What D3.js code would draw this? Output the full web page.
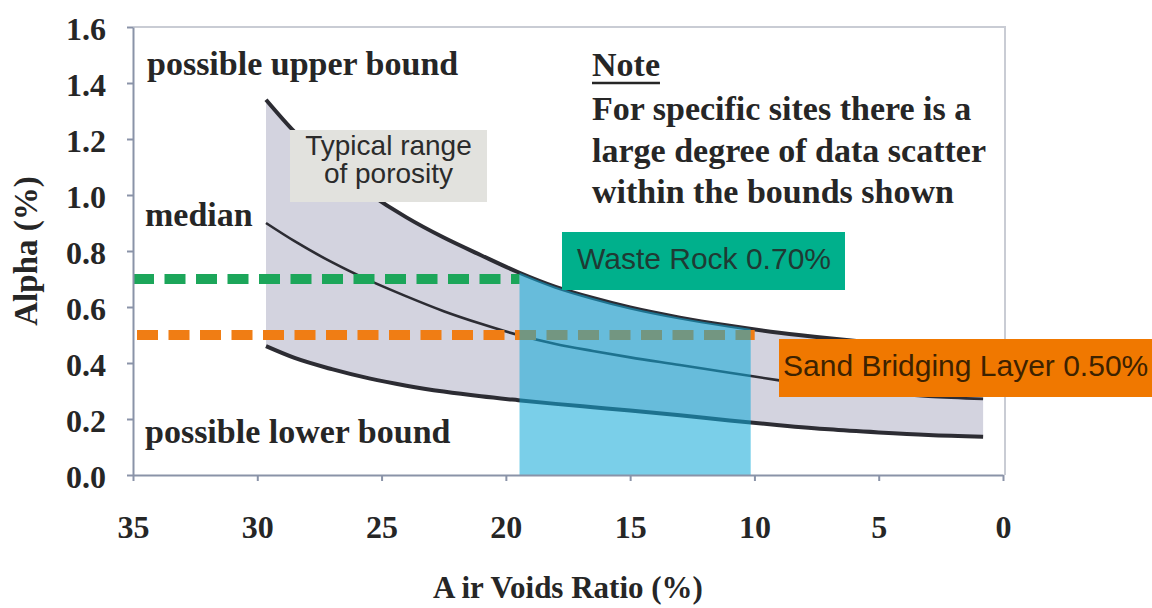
<!DOCTYPE html>
<html>
<head>
<meta charset="utf-8">
<script src="https://cdn.jsdelivr.net/npm/d3@7"></script>
<style>
  html, body { margin: 0; padding: 0; background: #fff; }
  svg { display: block; }
  .serif { font-family: "Liberation Serif", "Times New Roman", serif; font-weight: bold; fill: #262626; }
  .sans { font-family: "Liberation Sans", Arial, sans-serif; }
  .axis path, .axis line { stroke: #8a93a8; stroke-width: 2; }
</style>
</head>
<body>
<svg id="chart" width="1152" height="608"></svg>
<script>
const voids = [29.65, 28.5, 27, 25.5, 24, 22.5, 21, 19.5, 18, 16.5, 15, 13, 11, 9, 7, 5, 3, 0.8];
// alpha (%) along each curve
const upperAlpha  = [1.34, 1.225, 1.105, 1.005, 0.92, 0.848, 0.785, 0.724, 0.672, 0.632, 0.598, 0.562, 0.533, 0.508, 0.488, 0.471, 0.456, 0.442];
const medianAlpha = [0.90, 0.835, 0.76, 0.695, 0.638, 0.585, 0.54, 0.50, 0.468, 0.443, 0.42, 0.393, 0.365, 0.338, 0.31, 0.292, 0.28, 0.272];
const lowerAlpha  = [0.46, 0.418, 0.378, 0.345, 0.319, 0.298, 0.281, 0.267, 0.254, 0.242, 0.23, 0.213, 0.195, 0.178, 0.163, 0.152, 0.143, 0.137];

const xTicks = [35, 30, 25, 20, 15, 10, 5, 0];
const yTicks = [0, 0.2, 0.4, 0.6, 0.8, 1.0, 1.2, 1.4, 1.6];

// design values and the typical porosity band
const wasteRockAlpha = 0.70;
const sandLayerAlpha = 0.50;
const porosityRange = [19.45, 10.15];

const noteLines = [
  "For specific sites there is a",
  "large degree of data scatter",
  "within the bounds shown",
];

// ---------------------------
// Scales
// ---------------------------

const svg = d3.select("#chart");
const margin = { top: 27, right: 149, bottom: 133, left: 133 };
const W = 1152, H = 608;

const x = d3.scaleLinear().domain([35, 0]).range([margin.left, W - margin.right]);
const y = d3.scaleLinear().domain([0, 1.6]).range([H - margin.bottom, margin.top]);

svg.append("rect").attr("width", W).attr("height", H).attr("fill", "#fff");

// light frame on top and right
svg.append("path")
  .attr("d", `M${x(35)},${y(1.6)}H${x(0) + 2}V${y(0)}`)
  .attr("fill", "none")
  .attr("stroke", "#c9ccd4")
  .attr("stroke-width", 2);

const rows = voids.map((v, i) => ({
  v,
  up: upperAlpha[i],
  med: medianAlpha[i],
  lo: lowerAlpha[i],
}));

// ---------------------------
// Band and curves
// ---------------------------

const band = d3.area()
  .x((d) => x(d.v))
  .y0((d) => y(d.lo))
  .y1((d) => y(d.up))
  .curve(d3.curveMonotoneX);

svg.append("path")
  .datum(rows)
  .attr("d", band)
  .attr("fill", "#d3d3df");

const curveLine = (key) => d3.line()
  .x((d) => x(d.v))
  .y((d) => y(d[key]))
  .curve(d3.curveMonotoneX);

[["up", 4], ["med", 2.6], ["lo", 4]].forEach(([key, w]) => {
  svg.append("path")
    .datum(rows)
    .attr("d", curveLine(key))
    .attr("fill", "none")
    .attr("stroke", "#2c2c33")
    .attr("stroke-width", w);
});

// ---------------------------
// Dashed design lines
// ---------------------------

svg.append("line")
  .attr("x1", x(35)).attr("x2", x(porosityRange[0]))
  .attr("y1", y(wasteRockAlpha)).attr("y2", y(wasteRockAlpha))
  .attr("stroke", "#1ca65a")
  .attr("stroke-width", 10)
  .attr("stroke-dasharray", "21 10.5");

svg.append("line")
  .attr("x1", x(35) + 4).attr("x2", x(porosityRange[1]) + 4)
  .attr("y1", y(sandLayerAlpha)).attr("y2", y(sandLayerAlpha))
  .attr("stroke", "#f07d14")
  .attr("stroke-width", 10)
  .attr("stroke-dasharray", "21 10.5");

// ---------------------------
// Blue porosity overlay
// ---------------------------

svg.append("clipPath")
  .attr("id", "poro-clip")
  .append("rect")
  .attr("x", x(porosityRange[0]))
  .attr("y", y(1.6))
  .attr("width", x(porosityRange[1]) - x(porosityRange[0]))
  .attr("height", y(0) - y(1.6));

const underUpper = d3.area()
  .x((d) => x(d.v))
  .y0(y(0))
  .y1((d) => y(d.up))
  .curve(d3.curveMonotoneX);

svg.append("path")
  .datum(rows)
  .attr("clip-path", "url(#poro-clip)")
  .attr("d", underUpper)
  .attr("fill", "#12aad8")
  .attr("fill-opacity", 0.56);

// ---------------------------
// Axes
// ---------------------------

const yAxis = svg.append("g")
  .attr("class", "axis")
  .attr("transform", `translate(${x(35)},0)`)
  .call(d3.axisLeft(y).tickValues(yTicks).tickFormat(d3.format(".1f")).tickSize(6).tickSizeOuter(0).tickPadding(21));

const xAxis = svg.append("g")
  .attr("class", "axis")
  .attr("transform", `translate(0,${y(0)})`)
  .call(d3.axisBottom(x).tickValues(xTicks).tickFormat(d3.format("d")).tickSize(6).tickSizeOuter(0).tickPadding(34));

svg.selectAll(".axis text")
  .attr("class", "serif")
  .style("font-size", "32px")
  .attr("fill", "#262626");
yAxis.selectAll("text").attr("dy", "0.38em");

// axis titles
const xTitle = svg.append("text")
  .attr("class", "serif")
  .attr("x", (x(35) + x(0)) / 2)
  .attr("y", 598)
  .attr("text-anchor", "middle")
  .style("font-size", "31px");
xTitle.append("tspan").text("A");
xTitle.append("tspan").attr("dx", 6).text("ir Voids Ratio (%)");

svg.append("text")
  .attr("class", "serif")
  .attr("transform", `translate(37,${(y(0) + y(1.6)) / 2}) rotate(-90)`)
  .attr("text-anchor", "middle")
  .style("font-size", "33px")
  .text("Alpha (%)");

// ---------------------------
// Annotations
// ---------------------------

const serifLabel = (txt, px, py) =>
  svg.append("text")
    .attr("class", "serif")
    .attr("x", px)
    .attr("y", py)
    .style("font-size", "34px")
    .text(txt);

serifLabel("possible upper bound", 147, 75);
serifLabel("median", 145, 226);
serifLabel("possible lower bound", 145, 443);

const note = serifLabel("Note", 592, 76);
const noteW = note.node().getComputedTextLength();
svg.append("line")
  .attr("x1", 592).attr("x2", 592 + noteW)
  .attr("y1", 83).attr("y2", 83)
  .attr("stroke", "#262626")
  .attr("stroke-width", 2.5);

noteLines.forEach((t, i) => serifLabel(t, 592, 120 + i * 41.5));

// callout boxes
function callout(lines, box, fill, color, size, anchor) {
  svg.append("rect")
    .attr("x", box.x).attr("y", box.y)
    .attr("width", box.w).attr("height", box.h)
    .attr("fill", fill);
  const lh = box.lh || size;
  lines.forEach((t, i) => {
    svg.append("text")
      .attr("class", "sans")
      .attr("x", anchor === "middle" ? box.x + box.w / 2 : box.x + box.pad)
      .attr("y", box.base + i * lh)
      .attr("text-anchor", anchor)
      .attr("fill", color)
      .style("font-size", size + "px")
      .text(t);
  });
}

callout(["Typical range", "of porosity"],
  { x: 290, y: 130, w: 197, h: 72, base: 155, lh: 28 }, "#e2e2de", "#2b2b2b", 28, "middle");

callout(["Waste Rock 0.70%"],
  { x: 562, y: 232, w: 283, h: 58, base: 269, pad: 15 }, "#00b08c", "#1f3a34", 30, "start");

callout(["Sand Bridging Layer 0.50%"],
  { x: 779, y: 339, w: 380, h: 58, base: 376, pad: 4 }, "#f07800", "#3d2200", 30, "start");
</script>
</body>
</html>
